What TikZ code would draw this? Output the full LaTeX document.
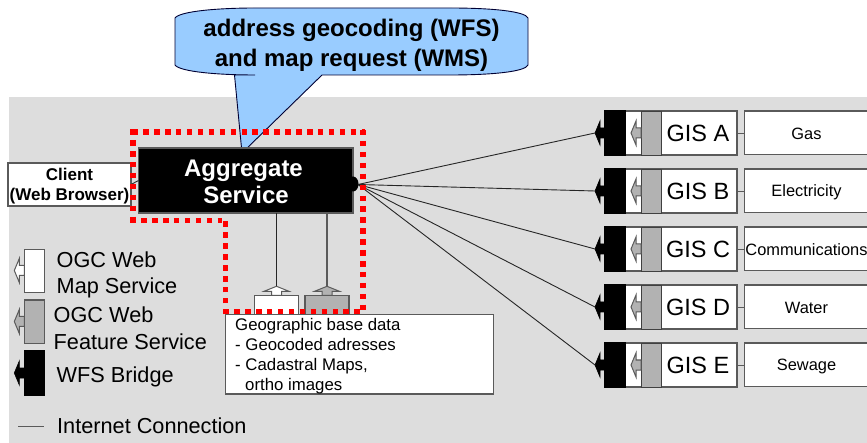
\documentclass[tikz,border=0pt]{standalone}
\usepackage{fontspec}
\setmainfont{Liberation Sans}
\definecolor{bgray}{HTML}{DDDDDD}
\definecolor{edge}{HTML}{5A5A5A}
\definecolor{svcgray}{HTML}{B2B2B2}
\definecolor{bubble}{HTML}{99CCFF}
\newcommand{\fsz}[2]{\fontsize{#1}{#2}\selectfont}
% tab arrow pointing left: x of shaft root, centre y, style
\newcommand{\tabLeft}[3]{\draw[#3] (#1,#2) ++(0,-5) -- ++(-5,0) -- ++(0,-7) -- ++(-5,12) -- ++(5,12) -- ++(0,-7) -- ++(5,0) -- cycle;}
\newcommand{\tabUp}[3]{\draw[#3] (#1,#2) ++(-5,0) -- ++(0,-4) -- ++(-7.5,0) -- ++(12.5,-5) -- ++(12.5,5) -- ++(-7.5,0) -- ++(0,4) -- cycle;}
\tikzset{
  x=1pt,y=-1pt,
  box/.style={draw=edge,line width=1.1pt,fill=white,inner sep=0pt,outer sep=0pt,anchor=north west},
  mapsvc/.style={draw=edge,line width=1pt,fill=white},
  featsvc/.style={draw=edge,line width=1pt,fill=svcgray},
  bridgesvc/.style={draw=black,line width=.6pt,fill=black},
  wire/.style={draw=black!85,line width=.9pt},
  lbl/.style={inner sep=0pt,anchor=west,align=left},
  ctr/.style={inner sep=0pt,anchor=center,align=center},
  reddots/.style={draw=red,line width=5.5pt,dash pattern=on 5.5pt off 5.42pt},
}
\begin{document}
\begin{tikzpicture}
\useasboundingbox (0,0) rectangle (867,443);
\fill[white] (0,0) rectangle (867,443);
\fill[bgray] (9,97) rectangle (867,443);
% callout
\draw[fill=bubble,draw=black!80!blue,line width=.9pt] (175,18) .. controls (180,11) and (220,8) .. (255,8) -- (450,8) .. controls (490,8) and (525,11) .. (528,18) -- (528,65) .. controls (525,72) and (490,75) .. (450,75) -- (322,75) -- (242,153) -- (234.5,75) -- (255,75) .. controls (220,75) and (180,72) .. (175,65) -- cycle;
\node[ctr,font=\bfseries\fsz{24}{30}] (callout) at (351.5,45.5) {address geocoding (WFS)\\and map request (WMS)};
% client
\node[box,minimum width=123pt,minimum height=43pt] (client) at (8,163) {};
\node[ctr,font=\bfseries\fsz{17}{20}] (clienttxt) at (69.5,186) {Client\\(Web Browser)};
% aggregate
\node[box,fill=black,minimum width=214.5pt,minimum height=65pt] (agg) at (138.5,148) {};
\fill[black] (353,184) ellipse [x radius=5.5,y radius=7.5];
\coordinate (hub) at (358,184.5);
\node[ctr,text=white,font=\bfseries\fsz{24}{27.5}] (aggtxt) at (243.5,182) {Aggregate\\\hspace*{5pt}Service};
\draw[wire] (client.east) -- (agg.west);
% base data
\node[box,minimum width=44.5pt,minimum height=20pt] (wmsbase) at (254.3,295.3) {};
\node[box,fill=svcgray,minimum width=44pt,minimum height=20pt] (wfsbase) at (305,295.3) {};
\tabUp{276.5}{295.3}{mapsvc}
\tabUp{327}{295.3}{featsvc}
\coordinate (wmstip) at (276.5,286);
\coordinate (wfstip) at (327,286);
\coordinate (wmstop) at (276.5,213);
\coordinate (wfstop) at (327,213);
\draw[wire] (wmstop) -- (wmstip);
\draw[draw=edge,line width=1.2pt] (wfstop) -- (wfstip);
\node[box,minimum width=267.5pt,minimum height=79.3pt] (geo) at (225.7,314.7) {};
\node[lbl,anchor=north west,font=\fsz{16.8}{20}] (geotxt) at (235,318) {Geographic base data\\- Geocoded adresses\\- Cadastral Maps,\\\hspace*{10pt}ortho images};
% GIS rows
\foreach \nm/\cy/\sub in {A/133/Gas,B/191/Electricity,C/249/Communications,D/307/Water,E/365/Sewage}{
  \node[box,minimum width=132pt,minimum height=44pt] (gis\nm) at (605,\cy-22) {};
  \node[box,fill=black,draw=black,minimum width=20pt,minimum height=44pt] (bridge\nm) at (605,\cy-22) {};
  \node[box,fill=svcgray,draw=black!75,line width=.9pt,minimum width=20pt,minimum height=44pt] (feat\nm) at (641,\cy-22) {};
  \tabLeft{641}{\cy}{featsvc}
  \tabLeft{605}{\cy}{bridgesvc}
  \coordinate (tip\nm) at (595,\cy);
  \node[ctr,font=\fsz{23.5}{28}] (gistxt\nm) at (698,\cy) {GIS \nm};
  \node[box,minimum width=130pt,minimum height=43.5pt] (type\nm) at (744.3,\cy-22) {};
  \node[ctr,font=\fsz{16.4}{20}] (typetxt\nm) at (806.5,\cy+1) {\sub};
  \draw[draw=edge,line width=.9pt] (gis\nm.east) -- (gis\nm.east -| type\nm.west);
  \draw[wire] (hub) -- (tip\nm);
}
% red boundary
\draw[reddots] (132.3,132) -- (365,132);
\draw[reddots] (363,130) -- (363,312);
\draw[reddots] (223.3,311.7) -- (363,311.7);
\draw[reddots] (225.7,314.3) -- (225.7,221.5);
\draw[reddots] (130.3,220.3) -- (222,220.3);
\draw[reddots] (133,129.2) -- (133,222);
% legend
\node[box,minimum width=20.4pt,minimum height=43.4pt] (legwms) at (24.3,249.3) {};
\tabLeft{24.3}{270.5}{mapsvc}
\node[box,fill=svcgray,minimum width=20.4pt,minimum height=43.3pt] (legwfs) at (24.3,300) {};
\tabLeft{24.3}{321.5}{featsvc}
\node[box,fill=black,draw=black,minimum width=20.4pt,minimum height=44pt] (legbridge) at (24.3,351) {};
\tabLeft{24.3}{373}{bridgesvc}
\node[lbl,font=\fsz{21.7}{26}] (l1) at (56.5,275) {OGC Web\\Map Service};
\node[lbl,font=\fsz{21.7}{27}] (l2) at (53.5,328) {OGC Web\\Feature Service};
\node[lbl,font=\fsz{21.7}{26}] (l3) at (56.5,377) {WFS Bridge};
\coordinate (inet1) at (18,426);
\coordinate (inet2) at (44,426);
\draw[draw=edge,line width=1pt] (inet1) -- (inet2);
\node[lbl,font=\fsz{21.7}{26}] (l4) at (57,426) {Internet Connection};
\end{tikzpicture}
\end{document}
